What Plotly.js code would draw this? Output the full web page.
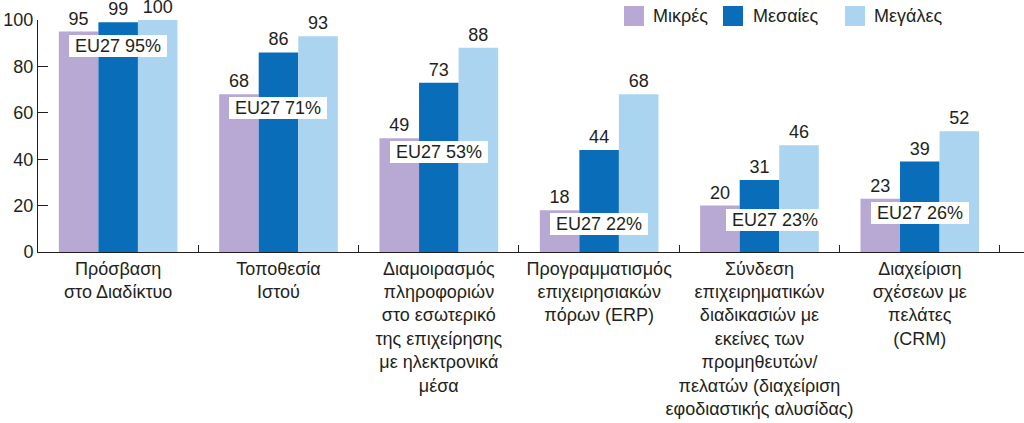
<!DOCTYPE html>
<html>
<head>
<meta charset="utf-8">
<script src="https://cdn.plot.ly/plotly-3.0.1.min.js"></script>
<style>html,body{margin:0;padding:0;background:#fff;}#chart{width:1024px;height:423px;}</style>
</head>
<body>
<div id="chart"></div>
<script>
const categories = [
  'Πρόσβαση<br>στο Διαδίκτυο',
  'Τοποθεσία<br>Ιστού',
  'Διαμοιρασμός<br>πληροφοριών<br>στο εσωτερικό<br>της επιχείρησης<br>με ηλεκτρονικά<br>μέσα',
  'Προγραμματισμός<br>επιχειρησιακών<br>πόρων (ERP)',
  'Σύνδεση<br>επιχειρηματικών<br>διαδικασιών με<br>εκείνες των<br>προμηθευτών/<br>πελατών (διαχείριση<br>εφοδιαστικής αλυσίδας)',
  'Διαχείριση<br>σχέσεων με<br>πελάτες<br>(CRM)'
];
const seriesNames = ['Μικρές', 'Μεσαίες', 'Μεγάλες'];
const small  = [95, 68, 49, 18, 20, 23];
const medium = [99, 86, 73, 44, 31, 39];
const large  = [100, 93, 88, 68, 46, 52];
const eu27   = [95, 71, 53, 22, 23, 26];

const colors = ['#B8A9D4', '#0A6DBA', '#AAD4F0'];
const ink = '#231F20';
const font = 'Liberation Sans, Arial, sans-serif';

const W = 1024, H = 423, mL = 38, mR = 0, mT = 20, mB = 171;
const plotW = W - mL - mR, plotH = H - mT - mB;
const px = x => (x - mL) / plotW;
const py = y => (H - mB - y) / plotH;

const values = [small, medium, large];
const traces = values.map((v, i) => ({
  type: 'bar',
  name: seriesNames[i],
  x: categories,
  y: v,
  marker: {color: colors[i], line: {width: 0}},
  texttemplate: '%{y}',
  textposition: 'outside',
  textfont: {family: font, size: 18, color: ink},
  cliponaxis: false,
  showlegend: false,
  hoverinfo: 'x+y'
}));

const euXShift = [0, 0, 0, 0, 16, 0];
const annotations = eu27.map((v, i) => ({
  x: categories[i], y: small[i], xref: 'x', yref: 'y',
  text: '\u00a0EU27 ' + v + '%\u00a0',
  showarrow: false, yanchor: 'top', xanchor: 'center',
  yshift: -3, xshift: euXShift[i],
  bgcolor: '#ffffff', borderpad: 1, borderwidth: 0,
  font: {family: font, size: 18, color: ink}
}));

// legend drawn as shapes + labels
const legendSq = [624, 723, 845];
const legendTx = [651, 751, 872];
const shapes = [];
seriesNames.forEach((n, i) => {
  shapes.push({type: 'rect', xref: 'paper', yref: 'paper',
    x0: px(legendSq[i]), x1: px(legendSq[i] + 20), y0: py(26), y1: py(6),
    fillcolor: colors[i], line: {width: 0}});
  annotations.push({xref: 'paper', yref: 'paper', x: px(legendTx[i]), y: py(16),
    xanchor: 'left', yanchor: 'middle', text: n, showarrow: false,
    font: {family: font, size: 18, color: ink}});
});

const layout = {
  width: W, height: H,
  margin: {l: mL, r: mR, t: mT, b: mB, pad: 0},
  paper_bgcolor: '#ffffff', plot_bgcolor: '#ffffff',
  barmode: 'group', bargap: 0.26, bargroupgap: 0,
  font: {family: font, size: 18, color: ink},
  showlegend: false,
  xaxis: {
    type: 'category', range: [-0.5, 5.65],
    showline: true, linecolor: ink, linewidth: 1,
    ticks: 'inside', ticklen: 7, tickcolor: ink, tickwidth: 1,
    tickson: 'boundaries', showgrid: false, zeroline: false,
    tickangle: 0, automargin: false,
    tickfont: {family: font, size: 18, color: ink},
    fixedrange: true
  },
  yaxis: {
    range: [0, 100], tickvals: [0, 20, 40, 60, 80, 100],
    showline: true, linecolor: ink, linewidth: 1,
    ticks: 'inside', ticklen: 10, tickcolor: ink, tickwidth: 1,
    showgrid: false, zeroline: false, automargin: false,
    tickfont: {family: font, size: 18, color: ink},
    fixedrange: true
  },
  annotations: annotations,
  shapes: shapes
};

Plotly.newPlot('chart', traces, layout, {displayModeBar: false, staticPlot: true});
</script>
</body>
</html>
